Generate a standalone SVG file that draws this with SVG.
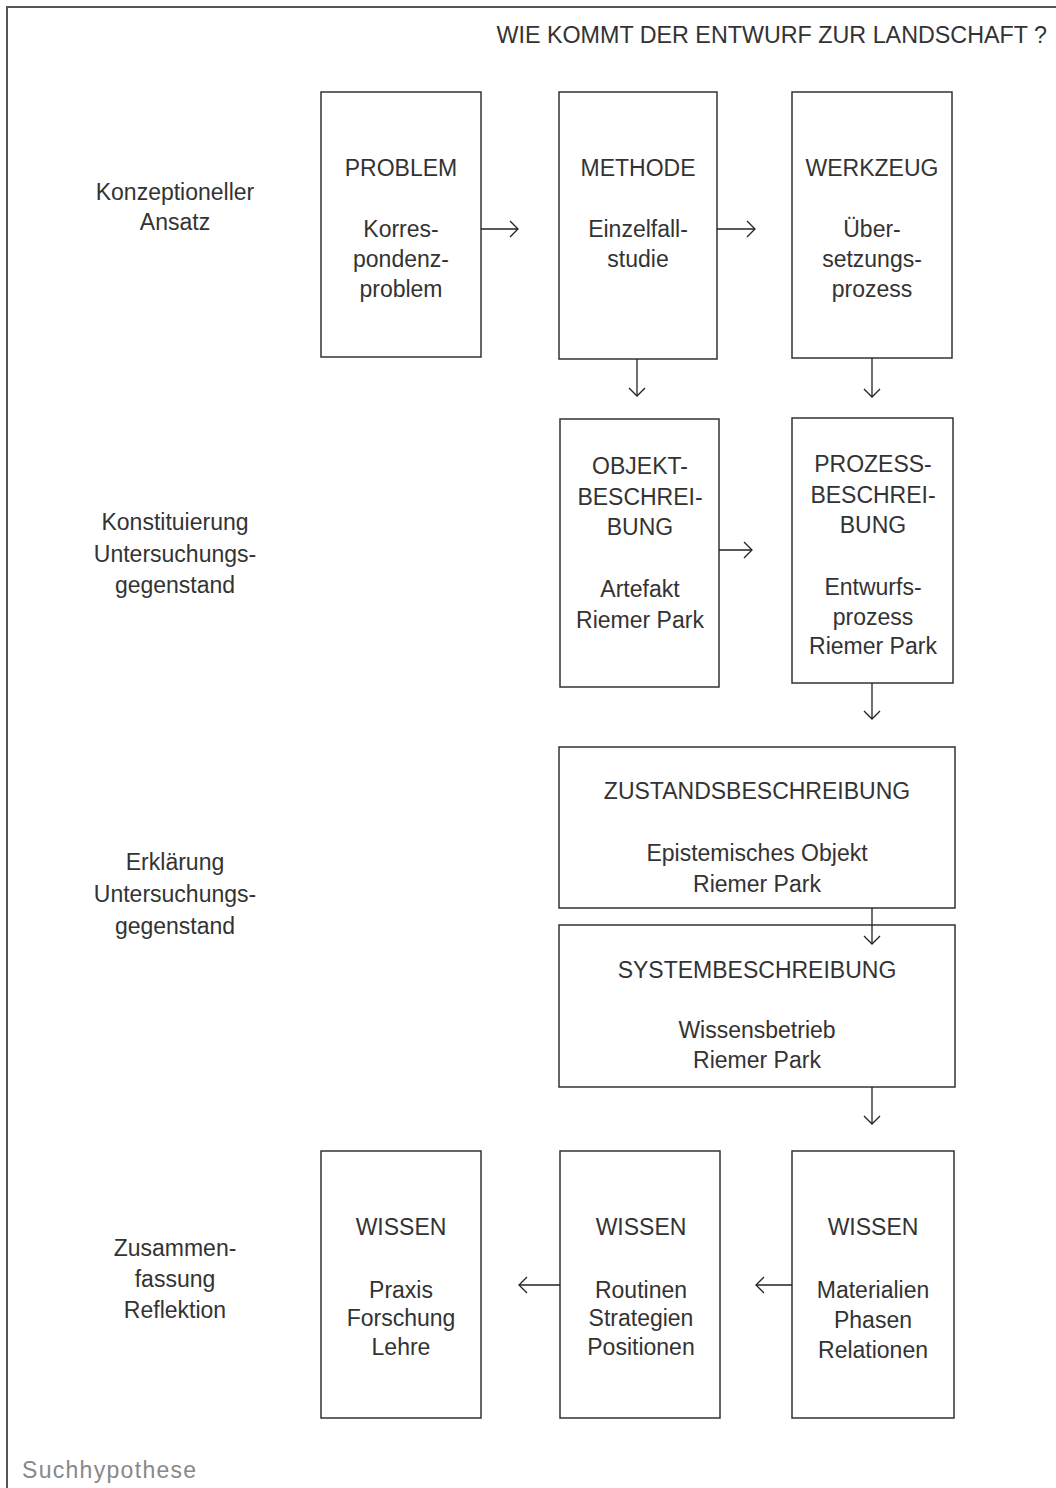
<svg xmlns="http://www.w3.org/2000/svg" width="1056" height="1488" viewBox="0 0 1056 1488">
<style>
text{font-family:"Liberation Sans",Arial,sans-serif;font-size:23px;fill:#333;text-anchor:middle}
.box{fill:#fff;stroke:#333;stroke-width:1.5}
.frame{fill:none;stroke:#555;stroke-width:2}
.con line{stroke:#222;stroke-width:1.3}
.con path{fill:none;stroke:#222;stroke-width:1.3}
.note{fill:#888;text-anchor:start;letter-spacing:1.3px}
</style>
<path class="frame" d="M7,1488 V7 H1056"/>
<text x="1047" y="43" style="text-anchor:end;font-size:23.3px">WIE KOMMT DER ENTWURF ZUR LANDSCHAFT ?</text>

<g id="labels">
<text x="175" y="200">Konzeptioneller</text><text x="175" y="230">Ansatz</text>
<text x="175" y="530">Konstituierung</text><text x="175" y="562">Untersuchungs-</text><text x="175" y="593">gegenstand</text>
<text x="175" y="870">Erklärung</text><text x="175" y="902">Untersuchungs-</text><text x="175" y="934">gegenstand</text>
<text x="175" y="1256">Zusammen-</text><text x="175" y="1287">fassung</text><text x="175" y="1318">Reflektion</text>
</g>

<g id="problem"><rect class="box" x="321" y="92" width="160" height="265"/>
<text x="401" y="176">PROBLEM</text><text x="401" y="237">Korres-</text><text x="401" y="267">pondenz-</text><text x="401" y="297">problem</text></g>

<g id="methode"><rect class="box" x="559" y="92" width="158" height="267"/>
<text x="638" y="176">METHODE</text><text x="638" y="237">Einzelfall-</text><text x="638" y="267">studie</text></g>

<g id="werkzeug"><rect class="box" x="792" y="92" width="160" height="266"/>
<text x="872" y="176">WERKZEUG</text><text x="872" y="237">Über-</text><text x="872" y="267">setzungs-</text><text x="872" y="297">prozess</text></g>

<g id="objekt"><rect class="box" x="560" y="419" width="159" height="268"/>
<text x="640" y="474">OBJEKT-</text><text x="640" y="505">BESCHREI-</text><text x="640" y="535">BUNG</text><text x="640" y="597">Artefakt</text><text x="640" y="628">Riemer Park</text></g>

<g id="prozess"><rect class="box" x="792" y="418" width="161" height="265"/>
<text x="873" y="472">PROZESS-</text><text x="873" y="503">BESCHREI-</text><text x="873" y="533">BUNG</text><text x="873" y="595">Entwurfs-</text><text x="873" y="625">prozess</text><text x="873" y="654">Riemer Park</text></g>

<g id="zustand"><rect class="box" x="559" y="747" width="396" height="161"/>
<text x="757" y="799">ZUSTANDSBESCHREIBUNG</text><text x="757" y="861">Epistemisches Objekt</text><text x="757" y="892">Riemer Park</text></g>

<g id="system"><rect class="box" x="559" y="925" width="396" height="162"/>
<text x="757" y="978">SYSTEMBESCHREIBUNG</text><text x="757" y="1038">Wissensbetrieb</text><text x="757" y="1068">Riemer Park</text></g>

<g id="wissen1"><rect class="box" x="321" y="1151" width="160" height="267"/>
<text x="401" y="1235">WISSEN</text><text x="401" y="1298">Praxis</text><text x="401" y="1326">Forschung</text><text x="401" y="1355">Lehre</text></g>

<g id="wissen2"><rect class="box" x="560" y="1151" width="160" height="267"/>
<text x="641" y="1235">WISSEN</text><text x="641" y="1298">Routinen</text><text x="641" y="1326">Strategien</text><text x="641" y="1355">Positionen</text></g>

<g id="wissen3"><rect class="box" x="792" y="1151" width="162" height="267"/>
<text x="873" y="1235">WISSEN</text><text x="873" y="1298">Materialien</text><text x="873" y="1328">Phasen</text><text x="873" y="1358">Relationen</text></g>

<g class="con" id="connectors">
<line x1="481" y1="229" x2="518" y2="229"/><path d="M510,221 L518,229 L510,237"/>
<line x1="717" y1="229" x2="755" y2="229"/><path d="M747,221 L755,229 L747,237"/>
<line x1="719" y1="550" x2="752" y2="550"/><path d="M744,542 L752,550 L744,558"/>
<line x1="637" y1="359" x2="637" y2="396"/><path d="M629,388 L637,396 L645,388"/>
<line x1="872" y1="358" x2="872" y2="397"/><path d="M864,389 L872,397 L880,389"/>
<line x1="872" y1="683" x2="872" y2="719"/><path d="M864,711 L872,719 L880,711"/>
<line x1="872" y1="908" x2="872" y2="944"/><path d="M864,936 L872,944 L880,936"/>
<line x1="872" y1="1087" x2="872" y2="1124"/><path d="M864,1116 L872,1124 L880,1116"/>
<line x1="792" y1="1285" x2="756" y2="1285"/><path d="M764,1277 L756,1285 L764,1293"/>
<line x1="560" y1="1285" x2="519" y2="1285"/><path d="M527,1277 L519,1285 L527,1293"/>
</g>

<text class="note" x="22" y="1478">Suchhypothese</text>
</svg>
